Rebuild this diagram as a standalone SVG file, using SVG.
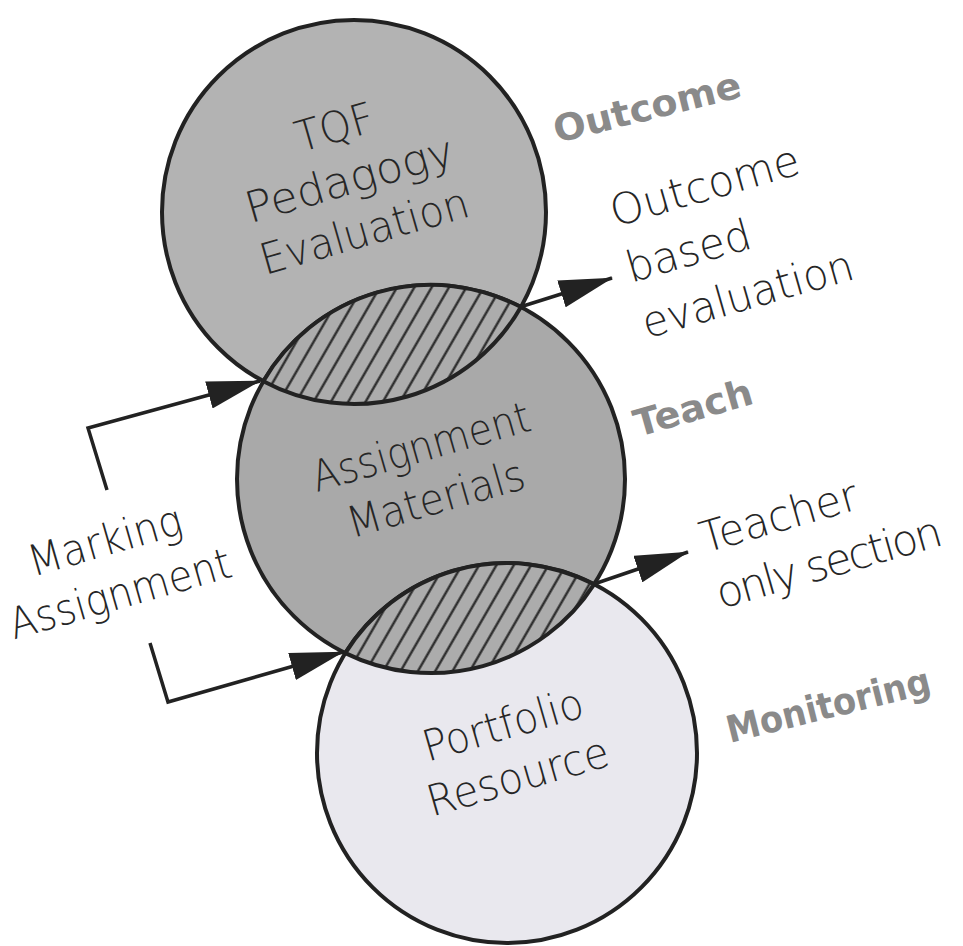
<svg xmlns="http://www.w3.org/2000/svg" width="963" height="946" viewBox="0 0 963 946">
<style>
.circ{stroke:#222;stroke-width:4}
.lens{fill:url(#hatch);stroke:#222;stroke-width:4}
.lbl{font-family:"DejaVu Sans","Liberation Sans",sans-serif;font-weight:200;font-size:43px;fill:#262626}
.tag{font-family:"DejaVu Sans","Liberation Sans",sans-serif;font-weight:bold;font-size:37px;fill:#8a8a8a}
.con{fill:none;stroke:#222;stroke-width:3.5;marker-end:url(#arrow)}
</style>
<defs>
<pattern id="hatch" width="15" height="15" patternUnits="userSpaceOnUse" patternTransform="rotate(30)">
<rect width="15" height="15" fill="#acacac"/>
<line x1="7.5" y1="-1" x2="7.5" y2="16" stroke="#222" stroke-width="2.2"/>
</pattern>
<marker id="arrow" markerUnits="userSpaceOnUse" markerWidth="54" markerHeight="28" viewBox="0 0 54 28" refX="53" refY="14" orient="auto">
<path d="M0,0 L54,14 L0,28 z" fill="#222"/>
</marker>
</defs>
<rect width="963" height="946" fill="#ffffff"/>
<g id="node-tqf">
<circle class="circ" cx="354" cy="212" r="192" fill="#b3b3b3"/>
</g>
<g id="node-assignment">
<circle class="circ" cx="431" cy="479" r="194" fill="#a9a9a9"/>
</g>
<g id="node-portfolio">
<circle class="circ" cx="507" cy="753" r="190" fill="#e9e8ee"/>
</g>
<g id="overlap-outcome">
<path class="lens" d="M263.3,381.2 A192,192 0 0 0 520.9,307 A194,194 0 0 0 263.3,381.2 Z"/>
</g>
<g id="overlap-teacher">
<path class="lens" d="M345.3,653.1 A194,194 0 0 0 594.1,584.3 A190,190 0 0 0 345.3,653.1 Z"/>
</g>
<g id="labels-nodes">
<g transform="translate(353.5,193.5) rotate(-16)">
<text class="lbl" x="0" y="-54" text-anchor="middle" textLength="80" lengthAdjust="spacingAndGlyphs">TQF</text>
<text class="lbl" x="0" y="0" text-anchor="middle" textLength="215" lengthAdjust="spacingAndGlyphs">Pedagogy</text>
<text class="lbl" x="0" y="54" text-anchor="middle" textLength="215" lengthAdjust="spacingAndGlyphs">Evaluation</text>
</g>
<g transform="translate(425,461) rotate(-16)">
<text class="lbl" x="0" y="0" text-anchor="middle" textLength="225" lengthAdjust="spacingAndGlyphs">Assignment</text>
<text class="lbl" x="0" y="54" text-anchor="middle" textLength="183" lengthAdjust="spacingAndGlyphs">Materials</text>
</g>
<g transform="translate(507,739) rotate(-16)">
<text class="lbl" x="0" y="0" text-anchor="middle" textLength="165" lengthAdjust="spacingAndGlyphs">Portfolio</text>
<text class="lbl" x="0" y="54" text-anchor="middle" textLength="187" lengthAdjust="spacingAndGlyphs">Resource</text>
</g>
</g>
<g id="connectors">
<polyline class="con" points="107,490 88,428 260,381"/>
<polyline class="con" points="150,643 168,702 343,652"/>
<line class="con" x1="520" y1="307" x2="612" y2="278"/>
<line class="con" x1="594" y1="584" x2="688" y2="552"/>
</g>
<g id="label-marking" transform="translate(109,555) rotate(-16)">
<text class="lbl" x="0" y="0" text-anchor="middle" textLength="158" lengthAdjust="spacingAndGlyphs">Marking</text>
<text class="lbl" x="0" y="55" text-anchor="middle" textLength="229" lengthAdjust="spacingAndGlyphs">Assignment</text>
</g>
<g id="label-outcome-based" transform="translate(615,227) rotate(-16)">
<text class="lbl" x="0" y="0" textLength="195" lengthAdjust="spacingAndGlyphs">Outcome</text>
<text class="lbl" x="0" y="58" textLength="128" lengthAdjust="spacingAndGlyphs">based</text>
<text class="lbl" x="0" y="116" textLength="218" lengthAdjust="spacingAndGlyphs">evaluation</text>
</g>
<g id="label-teacher-only" transform="translate(705,553) rotate(-16)">
<text class="lbl" x="0" y="0" textLength="162" lengthAdjust="spacingAndGlyphs">Teacher</text>
<text class="lbl" x="0" y="58" letter-spacing="-2.4">only section</text>
</g>
<g id="tag-outcome" transform="translate(557,143) rotate(-14)">
<text class="tag" x="0" y="0" textLength="192" lengthAdjust="spacingAndGlyphs">Outcome</text>
</g>
<g id="tag-teach" transform="translate(638,437) rotate(-16)">
<text class="tag" x="0" y="0" textLength="122" lengthAdjust="spacingAndGlyphs">Teach</text>
</g>
<g id="tag-monitoring" transform="translate(730,743) rotate(-14)">
<text class="tag" x="0" y="0" textLength="209" lengthAdjust="spacingAndGlyphs">Monitoring</text>
</g>
</svg>
